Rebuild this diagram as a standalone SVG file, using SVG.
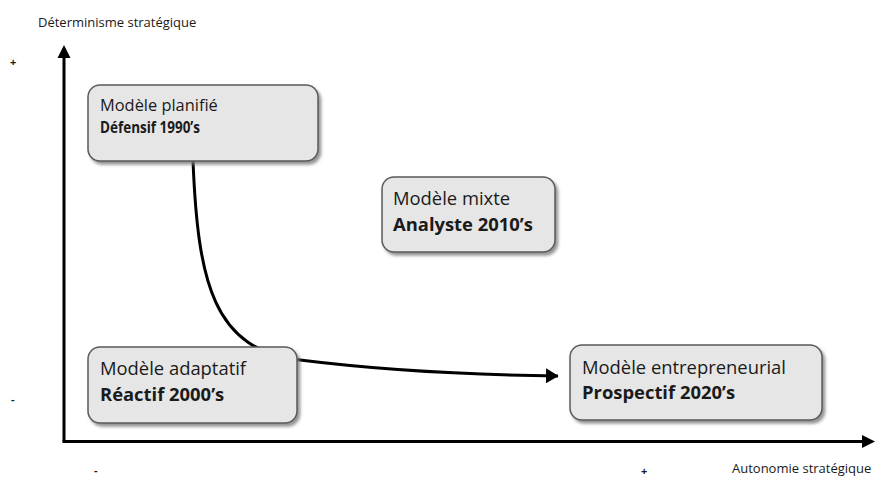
<svg xmlns="http://www.w3.org/2000/svg" width="875" height="478" viewBox="0 0 875 478">
  <defs>
    <style>
      .box { fill: #e6e6e6; stroke: #5a5a5a; stroke-width: 1.5; filter: url(#shadow); }
      .t { font-family: "Open Sans", "Noto Sans", sans-serif; fill: #1a1a1a; }
      .big { font-size: 18.4px; }
      .small { font-size: 16.4px; }
      .b { font-weight: bold; }
      .lab { font-family: "Open Sans", "Noto Sans", sans-serif; font-size: 13px; fill: #1a1a1a; }
      .sign { font-family: "Open Sans", "Noto Sans", sans-serif; font-size: 11px; font-weight: bold; fill: #1a1a1a; }
      .axis { stroke: #000; stroke-width: 3; fill: none; }
      .flow { stroke: #000; stroke-width: 3; fill: none; marker-end: url(#head); }
    </style>
    <filter id="shadow" x="-10%" y="-10%" width="130%" height="140%">
      <feDropShadow dx="2.5" dy="3" stdDeviation="1.8" flood-color="#7a7a7a" flood-opacity="0.8"/>
    </filter>
    <marker id="head" markerWidth="5" markerHeight="5" refX="4" refY="2.5" orient="auto" markerUnits="strokeWidth">
      <path d="M0,0 L4.2,2.5 L0,5 Z" fill="#000"/>
    </marker>
  </defs>

  <!-- axes -->
  <g id="axes">
    <line class="axis" x1="64" y1="441.5" x2="64" y2="56"/>
    <path d="M57.5,58 L64,45 L70.5,58 Z" fill="#000"/>
    <line class="axis" x1="62.5" y1="441.5" x2="864" y2="441.5"/>
    <path d="M862,435 L875,441.5 L862,448 Z" fill="#000"/>
    <text class="lab" x="38" y="27">Déterminisme stratégique</text>
    <text class="lab" x="732" y="473" font-size="13.4">Autonomie stratégique</text>
    <text class="sign" x="10" y="66">+</text>
    <text class="sign" x="11" y="403">-</text>
    <text class="sign" x="94" y="474">-</text>
    <text class="sign" x="641" y="475">+</text>
  </g>

  <!-- connectors -->
  <g id="connectors">
    <path class="flow" d="M193,161 C198,282 213,350 300,360 C380,370 480,375 558,376"/>
  </g>

  <!-- nodes -->
  <g id="node-planifie">
    <rect class="box" x="88" y="85" width="230" height="76" rx="12"/>
    <text class="t small" x="100" y="111">Modèle planifié</text>
    <text class="t small b" x="100" y="133" textLength="100" lengthAdjust="spacingAndGlyphs">Défensif 1990’s</text>
  </g>

  <g id="node-mixte">
    <rect class="box" x="382" y="177" width="173" height="75" rx="12"/>
    <text class="t big" x="393" y="205">Modèle mixte</text>
    <text class="t big b" x="393" y="231">Analyste 2010’s</text>
  </g>

  <g id="node-adaptatif">
    <rect class="box" x="88" y="347" width="209" height="76" rx="12"/>
    <text class="t big" x="100" y="375">Modèle adaptatif</text>
    <text class="t big b" x="100" y="401">Réactif 2000’s</text>
  </g>

  <g id="node-entrepreneurial">
    <rect class="box" x="570" y="345" width="252" height="75" rx="12"/>
    <text class="t big" x="582" y="374">Modèle entrepreneurial</text>
    <text class="t big b" x="582" y="399">Prospectif 2020’s</text>
  </g>
</svg>
